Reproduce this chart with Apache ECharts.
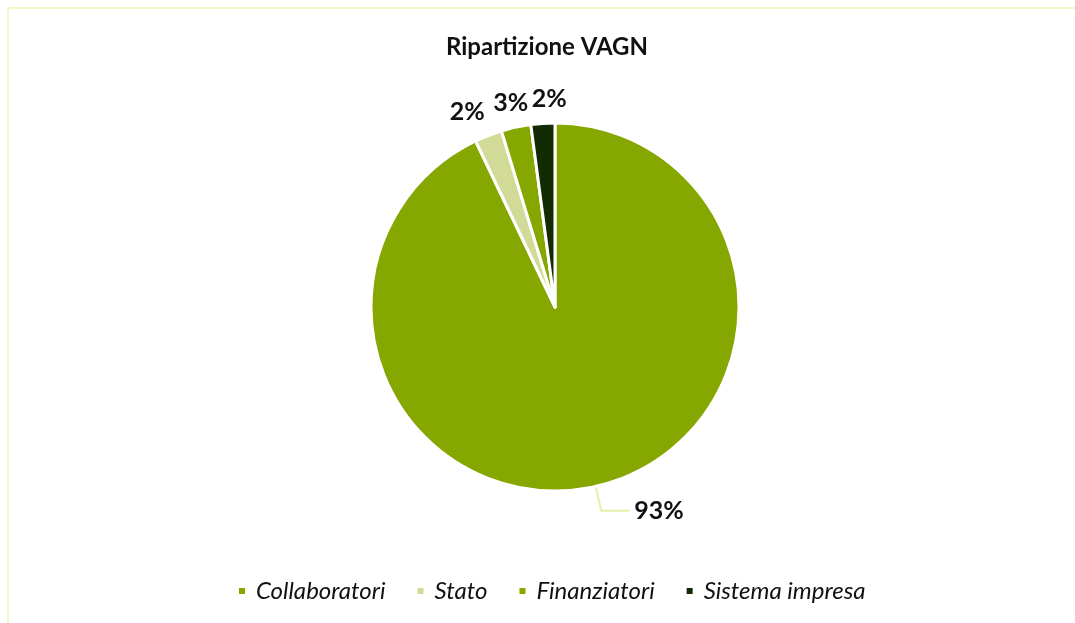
<!DOCTYPE html>
<html>
<head>
<meta charset="utf-8">
<script src="https://cdn.jsdelivr.net/npm/echarts@6/dist/echarts.min.js"></script>
<style>
  html, body { margin: 0; padding: 0; background: #fff; }
  #chart { width: 1075px; height: 623px; }
</style>
</head>
<body>
<div id="chart"></div>
<script>
/* Ripartizione VAGN - pie */
const categories = ['Collaboratori', 'Stato', 'Finanziatori', 'Sistema impresa'];
const values = [92.9, 2.4, 2.6, 2.1];
const colors = ['#86a600', '#d1da96', '#86a600', '#122b02'];

// horizontal spread for the crowded small-slice labels
const labelNudge = [0, -12, 0, 8];

let chartDom = document.getElementById('chart');
let myChart = echarts.init(chartDom);

let data = categories.map((name, i) => {
    let item = { name: name, value: values[i], itemStyle: { color: colors[i] } };
    if (i > 0) {
        item.labelLine = { show: false, length: 25, length2: 0 };
    }
    return item;
});

let option = {
    backgroundColor: '#fff',
    title: {
        text: 'Ripartizione VAGN',
        left: 441,
        top: 30,
        textStyle: {
            fontFamily: 'Lato',
            fontWeight: 'bold',
            fontSize: 24,
            color: '#111',
        },
    },
    legend: {
        bottom: 15,
        left: 232,
        itemWidth: 8,
        itemHeight: 8,
        itemGap: 30,
        icon: 'rect',
        textStyle: {
            fontFamily: 'Lato',
            fontStyle: 'italic',
            fontSize: 24,
            color: '#111',
            padding: [0, 0, 0, 5],
        },
        data: categories,
    },
    graphic: [
        {
            type: 'rect',
            shape: { x: 8, y: 8, width: 1200, height: 700 },
            style: { fill: 'none', stroke: '#f1f8c8', lineWidth: 2 },
            silent: true,
        },
    ],
    series: [
        {
            name: 'VAGN',
            type: 'pie',
            center: [555, 307],
            radius: 184,
            startAngle: 90,
            clockwise: true,
            percentPrecision: 0,
            avoidLabelOverlap: false,
            itemStyle: {
                borderColor: '#fff',
                borderWidth: 3,
            },
            label: {
                show: true,
                position: 'outside',
                formatter: '{d}%',
                fontFamily: 'Lato',
                fontWeight: 'bold',
                fontSize: 25,
                color: '#111',
            },
            labelLine: {
                show: true,
                length: 25,
                length2: 28,
                lineStyle: { color: '#e3f0a8', width: 2 },
            },
            // small slices: centre the label on the end of its (hidden) line
            labelLayout: function (params) {
                if (params.dataIndex === 0 || !params.labelLinePoints) {
                    return { hideOverlap: false };
                }
                let end = params.labelLinePoints[params.labelLinePoints.length - 1];
                return {
                    x: end[0] + labelNudge[params.dataIndex],
                    y: end[1],
                    align: 'center',
                    verticalAlign: 'middle',
                    hideOverlap: false,
                };
            },
            emphasis: { disabled: true },
            data: data,
        },
    ],
};

option && myChart.setOption(option);
</script>
</body>
</html>
